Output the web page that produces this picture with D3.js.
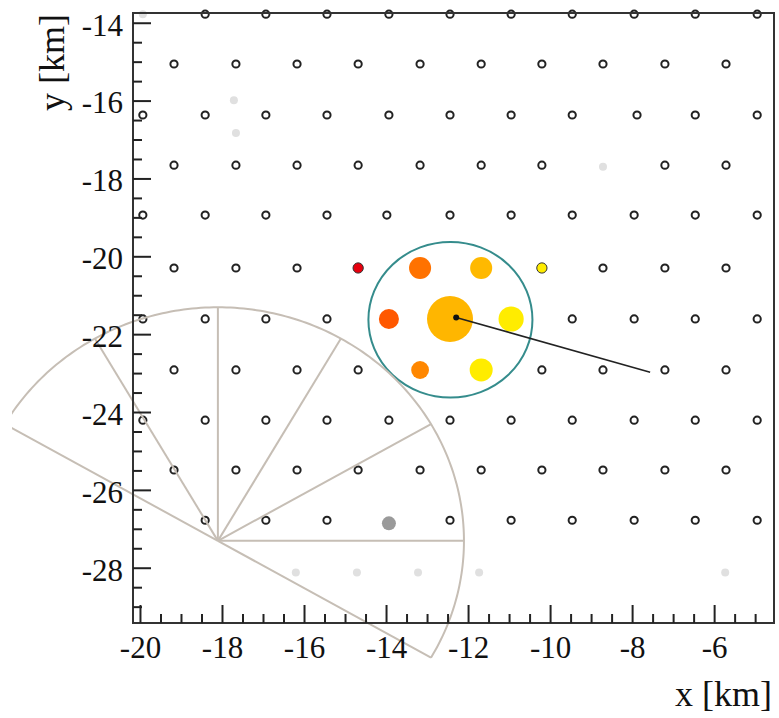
<!DOCTYPE html>
<html>
<head>
<meta charset="utf-8">
<script src="https://cdn.jsdelivr.net/npm/d3@7"></script>
<style>
  body { margin: 0; background: #fff; }
  text { font-family: "Liberation Serif", "Times New Roman", serif; fill: #111; }
</style>
</head>
<body>
<div id="map"></div>
<script>

// station rows (km)
var rowY = [-13.78, -15.06, -16.37, -17.66, -18.94, -20.30, -21.61, -22.92, -24.21, -25.49, -26.78]
var rowX = [
  [-18.41, -16.93, -15.44, -13.93, -12.44, -10.95, -9.46, -7.95, -6.46, -4.95],
  [-19.17, -17.66, -16.17, -14.68, -13.17, -11.68, -10.20, -8.71, -7.20, -5.71],
  [-19.93, -18.41, -16.93, -15.44, -13.93, -12.44, -10.95, -9.46, -7.88, -6.46, -4.95],
  [-19.17, -17.66, -16.17, -14.68, -13.17, -11.68, -10.20, -7.20, -5.71],
  [-19.93, -18.41, -16.93, -15.44, -13.98, -12.44, -10.95, -9.46, -7.95, -6.46, -4.95],
  [-19.17, -17.66, -16.17, -8.71, -7.20, -5.71],
  [-19.93, -18.41, -16.93, -15.44, -9.46, -7.95, -6.46, -4.95],
  [-19.17, -17.66, -16.17, -14.68, -10.20, -8.71, -7.20, -5.71],
  [-19.93, -18.41, -16.93, -15.44, -13.93, -12.44, -10.95, -9.46, -7.95, -6.46, -4.95],
  [-19.17, -17.66, -16.17, -14.68, -13.17, -11.68, -10.20, -8.71, -7.20, -5.71],
  [-18.41, -16.93, -15.44, -12.44, -10.95, -9.46, -7.95, -6.46, -4.95]
]

// stations not in the event (light grey)
var offX = [-19.93, -17.71, -17.66, -8.71, -16.20, -14.71, -13.22, -11.73, -5.73]
var offY = [-13.78, -15.99, -16.83, -17.70, -28.12, -28.12, -28.12, -28.12, -28.12]

// stations with signal
var hitX = [-14.68, -13.17, -11.68, -10.20, -13.93, -12.44, -10.95, -13.17, -11.68]
var hitY = [-20.30, -20.30, -20.30, -20.30, -21.61, -21.61, -21.61, -22.92, -22.92]
var hitSignal = [5, 23, 23, 5, 19, 100, 30, 15, 25]
var hitTime = [0, 0.40, 0.68, 1, 0.30, 0.66, 1, 0.48, 1]

// noisy station (grey)
var greyX = [-13.93]
var greyY = [-26.86]

// reconstruction
var core = [-12.29, -21.57]
var axisEnd = [-7.56, -22.98]
var ringCenter = [-12.43, -21.63]
var ringRadius = 2

// fluorescence eye field of view
var eye = [-18.10, -27.31]
var eyeRange = 6
var eyeSpokes = [0, 30, 60, 90, 120]
var eyeEdges = [-30, 150]

var xTicks = [-20, -18, -16, -14, -12, -10, -8, -6]
var yTicks = [-14, -16, -18, -20, -22, -24, -26, -28]

var margin = { top: 13, left: 133, right: 5, bottom: 95 },
   width = 779,
   height = 718

var svg = d3.select("#map")
  .append("svg")
  .attr("width", width)
  .attr("height", height)

var x = d3.scaleLinear()
  .domain([-20.17, -4.54])
  .range([margin.left, width - margin.right])

var y = d3.scaleLinear()
  .domain([-29.42, -13.75])
  .range([height - margin.bottom, margin.top])

var radius = d3.scaleSqrt()
  .domain([0, 100])
  .range([0, 23])

var timeColor = d3.scaleLinear()
  .domain([0, 0.3, 0.66, 1])
  .range(["#e6000e", "#ff5800", "#ffb600", "#ffec00"])

svg.append("clipPath")
  .attr("id", "page")
  .append("rect")
  .attr("x", 12).attr("y", 0)
  .attr("width", width).attr("height", height)

var stations = []
rowY.forEach(function(ry, i) {
  rowX[i].forEach(function(rx) { stations.push([rx, ry]) })
})

// faint stations
svg.selectAll(".off")
  .data(offX)
  .enter().append("circle")
  .attr("class", "off")
  .attr("cx", function(d) { return x(d) })
  .attr("cy", function(d, i) { return y(offY[i]) })
  .attr("r", 4)
  .style("fill", "#e0e0e0")

svg.selectAll(".station")
  .data(stations)
  .enter().append("circle")
  .attr("class", "station")
  .attr("cx", function(d) { return x(d[0]) })
  .attr("cy", function(d) { return y(d[1]) })
  .attr("r", 3.6)
  .style("fill", "none")
  .style("stroke", "#222")
  .style("stroke-width", 2)

svg.selectAll(".grey")
  .data(greyX)
  .enter().append("circle")
  .attr("class", "grey")
  .attr("cx", function(d) { return x(d) })
  .attr("cy", function(d, i) { return y(greyY[i]) })
  .attr("r", 7)
  .style("fill", "#9a9a9a")

svg.selectAll(".hit")
  .data(hitX)
  .enter().append("circle")
  .attr("class", "hit")
  .attr("cx", function(d) { return x(d) })
  .attr("cy", function(d, i) { return y(hitY[i]) })
  .attr("r", function(d, i) { return radius(hitSignal[i]) })
  .style("fill", function(d, i) { return timeColor(hitTime[i]) })
  .style("stroke", function(d, i) { return hitSignal[i] < 8 ? "#333" : "none" })
  .style("stroke-width", 1)

// 2 km ring around the hottest station
svg.append("ellipse")
  .attr("cx", x(ringCenter[0]))
  .attr("cy", y(ringCenter[1]))
  .attr("rx", x(ringCenter[0] + ringRadius) - x(ringCenter[0]))
  .attr("ry", y(ringCenter[1]) - y(ringCenter[1] + ringRadius))
  .style("fill", "none")
  .style("stroke", "#358c8c")
  .style("stroke-width", 2)

// shower axis projection
svg.append("line")
  .attr("x1", x(core[0])).attr("y1", y(core[1]))
  .attr("x2", x(axisEnd[0])).attr("y2", y(axisEnd[1]))
  .style("stroke", "#222")
  .style("stroke-width", 1.6)

svg.append("circle")
  .attr("cx", x(core[0]))
  .attr("cy", y(core[1]))
  .attr("r", 3)
  .style("fill", "#111")

// eye field of view
function eyePoint(a, r) {
  var t = a * Math.PI / 180
  return [x(eye[0] + r * Math.cos(t)), y(eye[1] + r * Math.sin(t))]
}

var fov = svg.append("g")
  .attr("clip-path", "url(#page)")
  .style("fill", "none")
  .style("stroke", "#c6beb5")
  .style("stroke-width", 2)

fov.append("path")
  .attr("d", d3.line()(d3.range(eyeEdges[0], eyeEdges[1] + 0.5, 1).map(function(a) { return eyePoint(a, eyeRange) })))

fov.selectAll(".spoke")
  .data(eyeSpokes.concat(eyeEdges))
  .enter().append("line")
  .attr("class", "spoke")
  .attr("x1", x(eye[0]))
  .attr("y1", y(eye[1]))
  .attr("x2", function(d) { return eyePoint(d, eyeRange)[0] })
  .attr("y2", function(d) { return eyePoint(d, eyeRange)[1] })

// frame
svg.append("rect")
  .attr("x", x.range()[0])
  .attr("y", y.range()[1])
  .attr("width", x.range()[1] - x.range()[0])
  .attr("height", y.range()[0] - y.range()[1])
  .style("fill", "none")
  .style("stroke", "#333")
  .style("stroke-width", 2)

// axes, ticks pointing inside like ROOT
var xMinor = d3.range(-20, -4.6, 0.5).filter(function(d) { return d % 2 !== 0 })
var yMinor = d3.range(-14, -29.5, -0.5).filter(function(d) { return d % 2 !== 0 })

var xAxis = svg.append("g")
  .attr("transform", "translate(0," + y.range()[0] + ")")
  .call(d3.axisBottom(x).tickValues(xTicks).tickSize(-18).tickSizeOuter(0).tickPadding(13).tickFormat(function(d) { return String(d) }))

svg.append("g")
  .attr("transform", "translate(0," + y.range()[0] + ")")
  .call(d3.axisBottom(x).tickValues(xMinor).tickSize(-9).tickSizeOuter(0).tickFormat(""))

var yAxis = svg.append("g")
  .attr("transform", "translate(" + x.range()[0] + ",0)")
  .call(d3.axisLeft(y).tickValues(yTicks).tickSize(-18).tickSizeOuter(0).tickPadding(10).tickFormat(function(d) { return String(d) }))

svg.append("g")
  .attr("transform", "translate(" + x.range()[0] + ",0)")
  .call(d3.axisLeft(y).tickValues(yMinor).tickSize(-9).tickSizeOuter(0).tickFormat(""))

svg.selectAll(".domain").remove()
svg.selectAll(".tick line").style("stroke", "#222").style("stroke-width", 2)
svg.selectAll(".tick text")
  .style("font-family", "'Liberation Serif', serif")
  .style("font-size", "31px")
  .style("fill", "#111")

yAxis.selectAll(".tick text").attr("dy", "0.4em")

// axis titles
svg.append("text")
  .attr("x", 772)
  .attr("y", 706)
  .attr("text-anchor", "end")
  .style("font-size", "36px")
  .text("x [km]")

svg.append("text")
  .attr("transform", "translate(64,14) rotate(-90)")
  .attr("text-anchor", "end")
  .style("font-size", "36px")
  .text("y [km]")

</script>
</body>
</html>
